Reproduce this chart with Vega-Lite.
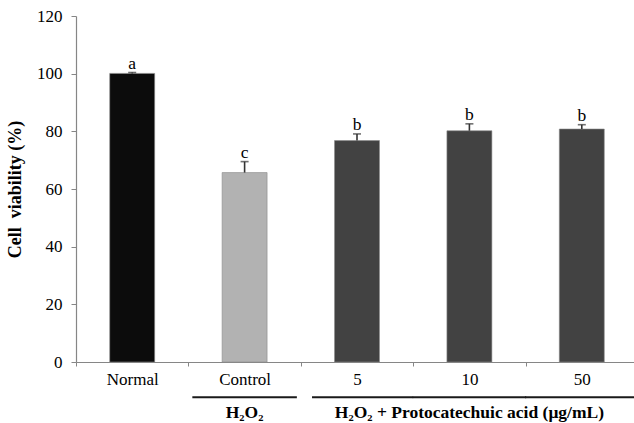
{
  "$schema": "https://vega.github.io/schema/vega-lite/v6.json",
  "autosize": {"type": "none"},
  "padding": {"left": 76, "top": 16, "right": 0, "bottom": 61},
  "width": 562,
  "height": 346,
  "config": {"view": {"stroke": null}, "font": "Liberation Serif"},
  "datasets": {
    "bars": [
      {"group": "Normal", "value": 100.1, "upper": 100.4, "sig": "a"},
      {"group": "Control", "value": 65.7, "upper": 69.5, "sig": "c"},
      {"group": "5", "value": 76.8, "upper": 79.1, "sig": "b"},
      {"group": "10", "value": 80.2, "upper": 82.6, "sig": "b"},
      {"group": "50", "value": 80.8, "upper": 82.3, "sig": "b"}
    ],
    "lines": [
      {"group": "Control", "part": "first"},
      {"group": "5", "part": "start"},
      {"group": "10", "part": "rest"},
      {"group": "50", "part": "rest"}
    ],
    "brackets": [
      {"center": "Control", "label": "H₂O₂"},
      {"center": "10", "label": "H₂O₂ + Protocatechuic acid (μg/mL)"}
    ]
  },
  "encoding": {
    "x": {
      "field": "group",
      "type": "nominal",
      "sort": ["Normal", "Control", "5", "10", "50"],
      "scale": {"domain": ["Normal", "Control", "5", "10", "50"], "paddingInner": 0, "paddingOuter": 0},
      "axis": {
        "title": null,
        "labelAngle": 0,
        "labelFont": "Liberation Serif",
        "labelFontSize": 17,
        "labelColor": "#000000",
        "labelPadding": 5,
        "tickSize": 4,
        "tickBand": "extent",
        "tickColor": "#868686",
        "domainColor": "#868686",
        "domainWidth": 1.2,
        "grid": false
      }
    }
  },
  "layer": [
    {
      "data": {"name": "bars"},
      "mark": {"type": "bar", "width": {"band": 0.4}, "stroke": "#8a8a8a", "strokeWidth": 0.6},
      "encoding": {
        "y": {
          "field": "value",
          "type": "quantitative",
          "scale": {"domain": [0, 120], "nice": false, "zero": true},
          "axis": {
            "title": "Cell\u00a0 viability (%)",
            "titleFont": "Liberation Serif",
            "titleFontSize": 18,
            "titleFontWeight": "bold",
            "titleColor": "#000000",
            "titlePadding": 12,
            "values": [0, 20, 40, 60, 80, 100, 120],
            "labelFont": "Liberation Serif",
            "labelFontSize": 17,
            "labelColor": "#000000",
            "labelPadding": 9,
            "tickSize": 5,
            "tickColor": "#868686",
            "domainColor": "#868686",
            "domainWidth": 1.2,
            "grid": false
          }
        },
        "color": {
          "field": "group",
          "type": "nominal",
          "scale": {"domain": ["Normal", "Control", "5", "10", "50"], "range": ["#0c0c0c", "#b2b2b2", "#424242", "#424242", "#424242"]},
          "legend": null
        }
      }
    },
    {
      "data": {"name": "bars"},
      "mark": {"type": "rule", "color": "#333333", "strokeWidth": 1.6},
      "encoding": {
        "y": {"field": "value", "type": "quantitative"},
        "y2": {"field": "upper"}
      }
    },
    {
      "data": {"name": "bars"},
      "mark": {"type": "tick", "orient": "horizontal", "color": "#333333", "thickness": 1.6, "size": 8},
      "encoding": {
        "y": {"field": "upper", "type": "quantitative"}
      }
    },
    {
      "data": {"name": "bars"},
      "mark": {"type": "text", "font": "Liberation Serif", "fontSize": 17.5, "color": "#000000", "baseline": "alphabetic", "dy": -4},
      "encoding": {
        "y": {"field": "upper", "type": "quantitative"},
        "text": {"field": "sig"}
      }
    },
    {
      "data": {"name": "lines"},
      "transform": [{"filter": "datum.part === 'first'"}],
      "mark": {"type": "bar", "color": "#1a1a1a", "width": {"band": 0.93}, "clip": false},
      "encoding": {
        "y": {"datum": -11.9, "type": "quantitative"},
        "y2": {"datum": -12.6}
      }
    },
    {
      "data": {"name": "lines"},
      "transform": [{"filter": "datum.part === 'start'"}],
      "mark": {"type": "bar", "color": "#1a1a1a", "width": {"band": 0.9}, "xOffset": 5.6, "clip": false},
      "encoding": {
        "y": {"datum": -11.9, "type": "quantitative"},
        "y2": {"datum": -12.6}
      }
    },
    {
      "data": {"name": "lines"},
      "transform": [{"filter": "datum.part === 'rest'"}],
      "mark": {"type": "bar", "color": "#1a1a1a", "width": {"band": 1.01}, "clip": false},
      "encoding": {
        "y": {"datum": -11.9, "type": "quantitative"},
        "y2": {"datum": -12.6}
      }
    },
    {
      "data": {"name": "brackets"},
      "mark": {"type": "text", "font": "Liberation Serif", "fontSize": 17.5, "fontWeight": "bold", "color": "#000000", "baseline": "alphabetic", "clip": false},
      "encoding": {
        "x": {"field": "center", "type": "nominal"},
        "y": {"datum": -19.4, "type": "quantitative"},
        "text": {"field": "label"}
      }
    }
  ]
}
